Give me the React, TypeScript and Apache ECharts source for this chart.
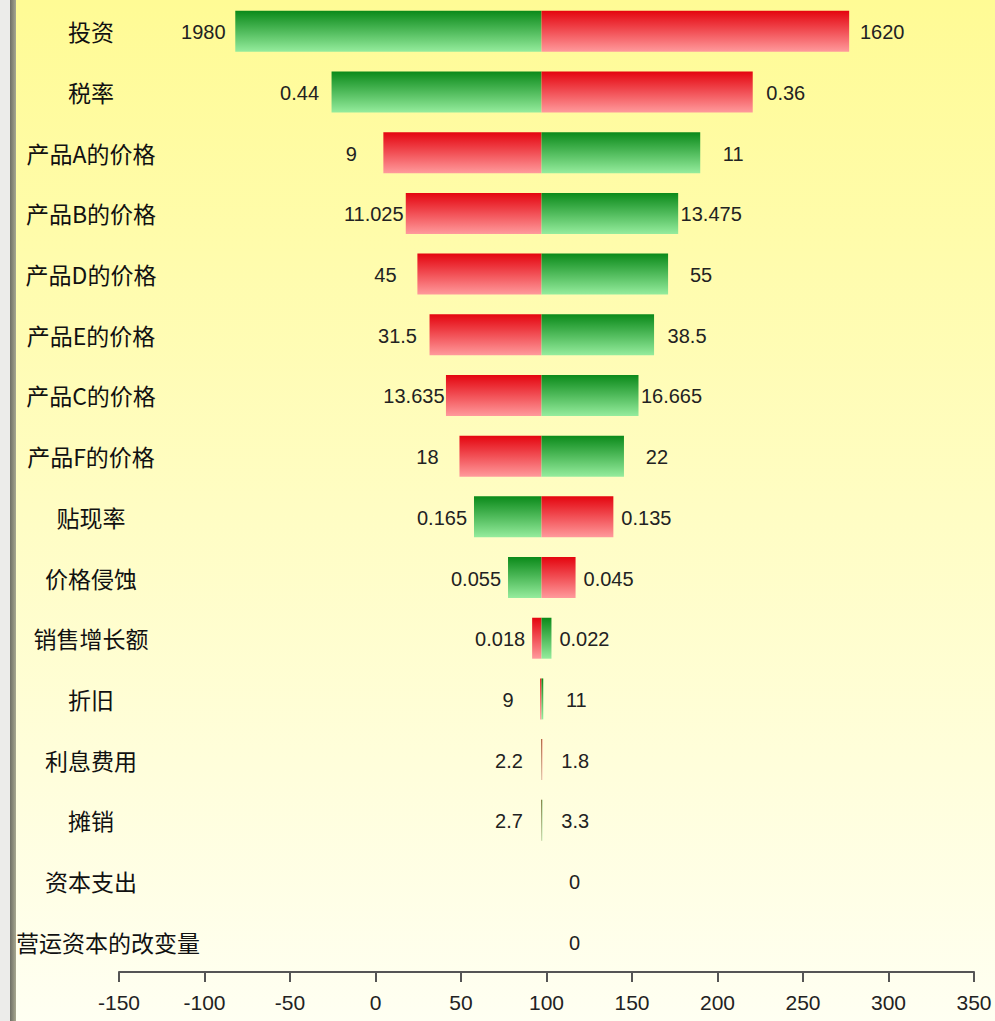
import React, { useEffect, useRef } from "react";
import * as echarts from "echarts";

// Categories (top to bottom)
const categories: string[] = [
  "投资", "税率", "产品A的价格", "产品B的价格", "产品D的价格", "产品E的价格",
  "产品C的价格", "产品F的价格", "贴现率", "价格侵蚀", "销售增长额", "折旧",
  "利息费用", "摊销", "资本支出", "营运资本的改变量",
];

// Input values shown at the left and right ends of each bar
const leftInputs: string[] = [
  "1980", "0.44", "9", "11.025", "45", "31.5", "13.635", "18", "0.165",
  "0.055", "0.018", "9", "2.2", "2.7", "", "",
];
const rightInputs: string[] = [
  "1620", "0.36", "11", "13.475", "55", "38.5", "16.665", "22", "0.135",
  "0.045", "0.022", "11", "1.8", "3.3", "0", "0",
];

// Output values at the left and right ends of each bar
const baseValue = 97.1;
const leftOutputs: number[] = [
  -82.0, -25.7, 4.6, 17.7, 24.5, 31.6, 41.2, 49.1, 57.6, 77.5, 91.6, 96.3,
  96.8, 96.8, 97.1, 97.1,
];
const rightOutputs: number[] = [
  277.0, 220.6, 189.9, 177.0, 171.1, 162.9, 153.8, 145.3, 139.1, 117.0, 102.9,
  98.1, 97.5, 97.5, 97.1, 97.1,
];

// Which end is the high input (green): true when left input > right input
const leftIsHigh: boolean[] = leftInputs.map((l, i) =>
  l !== "" && parseFloat(l) > parseFloat(rightInputs[i])
);

const xTickMin = -150;
const xTickMax = 350;
const xTickStep = 50;

const greenGrad = () =>
  new echarts.graphic.LinearGradient(0, 0, 0, 1, [
    { offset: 0, color: "#0b8a1a" },
    { offset: 1, color: "#95ec9d" },
  ]);
const redGrad = () =>
  new echarts.graphic.LinearGradient(0, 0, 0, 1, [
    { offset: 0, color: "#e4050f" },
    { offset: 1, color: "#ff9a9c" },
  ]);

const NUM_FONT = "'Liberation Sans', Arial, sans-serif";
const CJK_FONT = "'Noto Sans CJK SC', sans-serif";

export default function App() {
  const ref = useRef<HTMLDivElement>(null);

  useEffect(() => {
    if (!ref.current) return;
    const chart = echarts.init(ref.current, undefined, { renderer: "svg" });

    const data = categories.map((_, i) => [i, leftOutputs[i], rightOutputs[i]]);

    const option: any = {
      animation: false,
      backgroundColor: new echarts.graphic.LinearGradient(0, 0, 0, 1, [
        { offset: 0, color: "#fffb95" },
        { offset: 1, color: "#fffff2" },
      ]),
      graphic: [
        { type: "rect", left: 0, top: 0, shape: { width: 10, height: 1021 }, style: { fill: "#ececea" }, z: 10 },
        {
          type: "rect", left: 10, top: 0, shape: { width: 6, height: 1021 },
          style: {
            fill: new echarts.graphic.LinearGradient(0, 0, 1, 0, [
              { offset: 0, color: "#6f6f66" },
              { offset: 1, color: "#a8a890" },
            ]),
          },
          z: 10,
        },
      ],
      grid: {
        left: 119,
        right: 21,
        top: 1,
        height: 971,
        containLabel: false,
        outerBoundsMode: "none",
      },
      xAxis: {
        type: "value",
        min: xTickMin,
        max: xTickMax,
        interval: xTickStep,
        position: "bottom",
        axisLine: { show: true, lineStyle: { color: "#555", width: 2 } },
        axisTick: { show: true, length: 10, lineStyle: { color: "#555", width: 2 } },
        splitLine: { show: false },
        axisLabel: { fontSize: 21, color: "#222", margin: 20, fontFamily: NUM_FONT },
      },
      yAxis: {
        type: "category",
        inverse: true,
        data: categories,
        axisLine: { show: false },
        axisTick: { show: false },
        splitLine: { show: false },
        axisLabel: {
          fontSize: 23,
          color: "#111",
          fontFamily: CJK_FONT,
          align: "center",
          margin: 28,
          hideOverlap: false,
          formatter: (v: string) => (v.length > 7 ? `{sp|}{t|${v}}` : v),
          rich: {
            sp: { width: 34 },
            t: { fontSize: 23, color: "#111", fontFamily: CJK_FONT },
          },
        },
      },
      series: [
        {
          type: "custom",
          encode: { x: [1, 2], y: 0 },
          data,
          renderItem: (params: any, api: any) => {
            const i = params.dataIndex;
            const idx = api.value(0);
            const lo = api.value(1);
            const hi = api.value(2);
            const pBase = api.coord([baseValue, idx]);
            const pLo = api.coord([lo, idx]);
            const pHi = api.coord([hi, idx]);
            const bandH = api.size([0, 1])[1];
            const h = bandH * 0.675;
            const y = pBase[1] - h / 2;
            const children: any[] = [];
            const lw = pBase[0] - pLo[0];
            const rw = pHi[0] - pBase[0];
            const lg = leftIsHigh[i];
            if (lw > 0.2) {
              children.push({
                type: "rect",
                shape: { x: pLo[0], y, width: lw, height: h },
                style: { fill: lg ? greenGrad() : redGrad() },
              });
            }
            if (rw > 0.2) {
              children.push({
                type: "rect",
                shape: { x: pBase[0], y, width: rw, height: h },
                style: { fill: lg ? redGrad() : greenGrad() },
              });
            }
            if (leftInputs[i] !== "") {
              children.push({
                type: "text",
                x: pLo[0] - 32,
                y: pBase[1] + 1,
                style: {
                  text: leftInputs[i],
                  fill: "#222",
                  fontSize: 20,
                  fontFamily: NUM_FONT,
                  align: "center",
                  verticalAlign: "middle",
                },
                z2: 5,
              });
            }
            if (rightInputs[i] !== "") {
              children.push({
                type: "text",
                x: pHi[0] + 33,
                y: pBase[1] + 1,
                style: {
                  text: rightInputs[i],
                  fill: "#222",
                  fontSize: 20,
                  fontFamily: NUM_FONT,
                  align: "center",
                  verticalAlign: "middle",
                },
                z2: 5,
              });
            }
            return { type: "group", children };
          },
        },
      ],
    };

    chart.setOption(option);
    return () => chart.dispose();
  }, []);

  return (
    <div
      ref={ref}
      style={{ position: "fixed", left: 0, top: 0, width: 995, height: 1021 }}
    />
  );
}
